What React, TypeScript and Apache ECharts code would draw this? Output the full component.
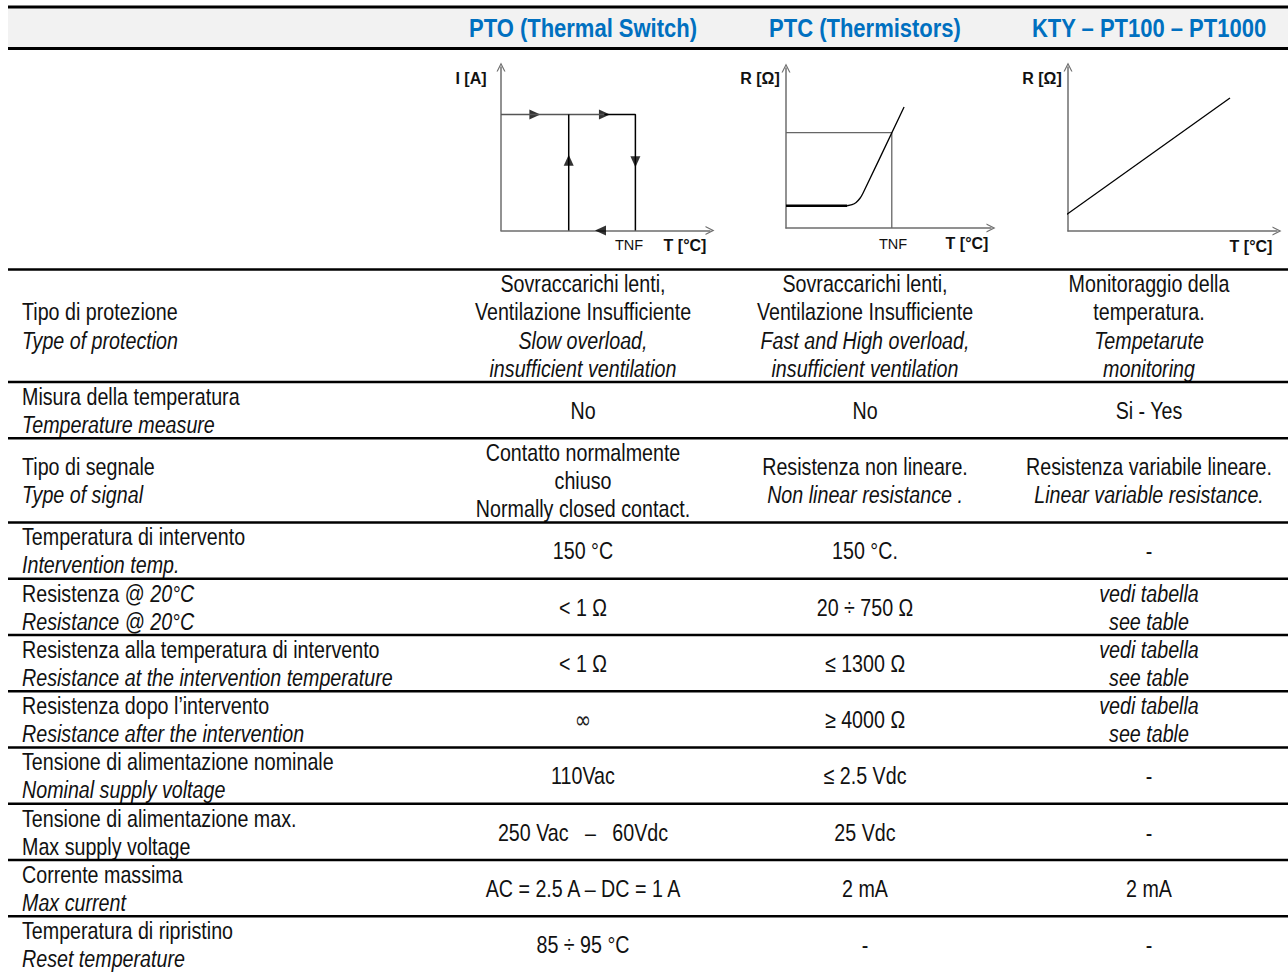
import React, { useEffect, useRef } from "react";
import * as echarts from "echarts";

// ---------- Table content ----------
const columnHeaders = ["PTO (Thermal Switch)", "PTC (Thermistors)", "KTY – PT100 – PT1000"];

const rowLabels: string[][] = [
  ["Tipo di protezione", "{i|Type of protection}"],
  ["Misura della temperatura", "{i|Temperature measure}"],
  ["Tipo di segnale", "{i|Type of signal}"],
  ["Temperatura di intervento", "{i|Intervention temp.}"],
  ["Resistenza @ {i|20°C}", "{i|Resistance @ 20°C}"],
  ["Resistenza alla temperatura di intervento", "{i|Resistance at the intervention temperature}"],
  ["Resistenza dopo l’intervento", "{i|Resistance after the intervention}"],
  ["Tensione di alimentazione nominale", "{i|Nominal supply voltage}"],
  ["Tensione di alimentazione max.", "Max supply voltage"],
  ["Corrente massima", "{i|Max current}"],
  ["Temperatura di ripristino", "{i|Reset temperature}"],
];

const ptoValues: string[][] = [
  ["Sovraccarichi lenti,", "Ventilazione Insufficiente", "{i|Slow overload,}", "{i|insufficient ventilation}"],
  ["No"],
  ["Contatto normalmente", "chiuso", "Normally closed contact."],
  ["150 °C"],
  ["< 1 Ω"],
  ["< 1 Ω"],
  ["{s|∞}"],
  ["110Vac"],
  ["250 Vac   –   60Vdc"],
  ["AC = 2.5 A – DC = 1 A"],
  ["85 ÷ 95 °C"],
];

const ptcValues: string[][] = [
  ["Sovraccarichi lenti,", "Ventilazione Insufficiente", "{i|Fast and High overload,}", "{i|insufficient ventilation}"],
  ["No"],
  ["Resistenza non lineare.", "{i|Non linear resistance .}"],
  ["150 °C."],
  ["20 ÷ 750 Ω"],
  ["≤ 1300 Ω"],
  ["≥ 4000 Ω"],
  ["≤ 2.5 Vdc"],
  ["25 Vdc"],
  ["2 mA"],
  ["-"],
];

const ktyValues: string[][] = [
  ["Monitoraggio della", "temperatura.", "{i|Tempetarute}", "{i|monitoring}"],
  ["Si - Yes"],
  ["Resistenza variabile lineare.", "{i|Linear variable resistance.}"],
  ["-"],
  ["{i|vedi tabella}", "{i|see table}"],
  ["{i|vedi tabella}", "{i|see table}"],
  ["{i|vedi tabella}", "{i|see table}"],
  ["-"],
  ["-"],
  ["2 mA"],
  ["-"],
];

// ---------- Schematic curves (arbitrary units, 0..100) ----------
const ptoHighLeft: number[][] = [[0, 71], [49.5, 71]];
const ptoHighRight: number[][] = [[49.5, 71], [64.3, 71], [64.3, 0]];
const ptoReset: number[][] = [[32.4, 0], [32.4, 71]];
const ptoArrows: { value: number[]; rot: number }[] = [
  { value: [16.2, 71], rot: -90 },
  { value: [49.5, 71], rot: -90 },
  { value: [32.4, 43], rot: 0 },
  { value: [64.3, 42], rot: 180 },
  { value: [47.6, 0], rot: 90 },
];

const ptcFlat: number[][] = [[0, 13.9], [29.8, 13.9]];
const ptcCurve: number[][] = [[29.8, 13.9], [32.2, 14.6], [34.2, 16.0], [36.1, 18.6], [37.6, 21.9], [57.6, 75.6]];
const ptcTnfBox: number[][] = [[0, 59.6], [51.6, 59.6], [51.6, 0]];

const ktyLine: number[][] = [[-2.4, 8.5], [77.5, 81.1]];

const FONT = "'Liberation Sans', Arial, sans-serif";
const TEXT_SIZE = 24;
const NARROW = 0.82;
const LINE_H = 28.12;

const chevron = "path://M0,10 L5,0 L10,10 L8.6,10 L5,2.9 L1.4,10 Z";

function axisPair(gridIndex: number) {
  const axisLine = {
    show: true,
    symbol: ["none", chevron],
    symbolSize: [11, 9],
    symbolOffset: [0, 0],
    lineStyle: { color: "#6e6e6e", width: 1.5 },
  };
  const common = {
    type: "value" as const,
    gridIndex,
    min: 0,
    max: 100,
    axisLine,
    axisTick: { show: false },
    axisLabel: { show: false },
    splitLine: { show: false },
  };
  return { x: { ...common }, y: { ...common } };
}

export default function App() {
  const ref = useRef<HTMLDivElement>(null);

  useEffect(() => {
    if (!ref.current) return;
    const chart = echarts.init(ref.current, undefined, { renderer: "svg" });

    const graphics: any[] = [];
    graphics.push({ type: "rect", shape: { x: 8, y: 8, width: 1280, height: 40 }, style: { fill: "#f2f2f2" }, silent: true });
    const hline = (y: number, w: number) =>
      graphics.push({ type: "line", shape: { x1: 8, y1: y, x2: 1288, y2: y }, style: { stroke: "#000", lineWidth: w }, silent: true });
    hline(7, 3);
    hline(48.5, 3);
    hline(269.5, 2.5);

    const colX = [583, 865, 1149];
    columnHeaders.forEach((h, i) => {
      graphics.push({
        type: "text",
        x: colX[i],
        y: 29,
        scaleX: 0.88,
        style: {
          text: h,
          fontFamily: FONT,
          fontSize: 25,
          fontWeight: "bold",
          fill: "#0070c0",
          align: "center",
          verticalAlign: "middle",
          textAlign: "center",
          textVerticalAlign: "middle",
        },
      });
    });

    const rich = {
      i: { fontStyle: "italic", fontSize: TEXT_SIZE, fontFamily: FONT, fill: "#111" },
      s: { fontSize: 24, fontFamily: "'DejaVu Sans', sans-serif", fill: "#222" },
    };
    const textEl = (x: number, y: number, text: string, align: string) => ({
      type: "text",
      x,
      y,
      scaleX: NARROW,
      style: {
        text,
        fontFamily: FONT,
        fontSize: TEXT_SIZE,
        fill: "#111",
        align,
        verticalAlign: "middle",
        textAlign: align,
        textVerticalAlign: "middle",
        rich,
      },
    });

    let y = 269.5;
    rowLabels.forEach((label, r) => {
      const cells = [ptoValues[r], ptcValues[r], ktyValues[r]];
      const n = Math.max(2, label.length, ...cells.map((c) => c.length));
      const h = n * LINE_H;
      const cy = y + h / 2 + 0.5;
      label.forEach((t, k) => {
        graphics.push(textEl(22, cy + (k - (label.length - 1) / 2) * LINE_H, t, "left"));
      });
      cells.forEach((c, ci) => {
        c.forEach((t, k) => {
          graphics.push(textEl(colX[ci], cy + (k - (c.length - 1) / 2) * LINE_H, t, "center"));
        });
      });
      y += h;
      if (r < rowLabels.length - 1) hline(y, 2.5);
    });

    const lbl = (x: number, yy: number, text: string, bold: boolean) => ({
      type: "text",
      x,
      y: yy,
      style: {
        text,
        fontFamily: FONT,
        fontSize: bold ? 16 : 14.5,
        fontWeight: bold ? "bold" : "normal",
        fill: "#111",
        align: "center",
        verticalAlign: "middle",
        textAlign: "center",
        textVerticalAlign: "middle",
      },
    });
    graphics.push(lbl(471, 78, "I [A]", true));
    graphics.push(lbl(629, 245, "TNF", false));
    graphics.push(lbl(685, 245, "T [°C]", true));
    graphics.push(lbl(760, 78, "R [Ω]", true));
    graphics.push(lbl(893, 244, "TNF", false));
    graphics.push(lbl(967, 243, "T [°C]", true));
    graphics.push(lbl(1042, 78, "R [Ω]", true));
    graphics.push(lbl(1251, 246, "T [°C]", true));

    const a0 = axisPair(0);
    const a1 = axisPair(1);
    const a2 = axisPair(2);

    const lineSeries = (data: number[][], xi: number, color: string, width: number, extra: any = {}) => ({
      type: "line",
      xAxisIndex: xi,
      yAxisIndex: xi,
      data,
      symbol: "none",
      silent: true,
      clip: false,
      lineStyle: { color, width },
      ...extra,
    });

    chart.setOption({
      animation: false,
      backgroundColor: "#ffffff",
      grid: [
        { left: 501, top: 67, width: 209, height: 163.5 },
        { left: 786, top: 68, width: 205, height: 160 },
        { left: 1068, top: 67, width: 209, height: 164 },
      ],
      xAxis: [a0.x, a1.x, a2.x],
      yAxis: [a0.y, a1.y, a2.y],
      series: [
        lineSeries(ptoHighLeft, 0, "#555", 1.5),
        lineSeries(ptoHighRight, 0, "#000", 1.5),
        lineSeries(ptoReset, 0, "#000", 1.5),
        {
          type: "scatter",
          xAxisIndex: 0,
          yAxisIndex: 0,
          silent: true,
          symbol: "triangle",
          symbolSize: [10, 11],
          itemStyle: { color: "#000" },
          data: ptoArrows.map((a) => ({ value: a.value, symbolRotate: a.rot })),
        },
        lineSeries(ptcTnfBox, 1, "#666", 1.3),
        lineSeries(ptcFlat, 1, "#000", 2.5),
        lineSeries(ptcCurve, 1, "#000", 1.3, { smooth: 0.35 }),
        lineSeries(ktyLine, 2, "#000", 1.3),
      ],
      graphic: graphics,
    });

    return () => chart.dispose();
  }, []);

  return <div ref={ref} style={{ position: "fixed", left: 0, top: 0, width: 1288, height: 972, background: "#fff" }} />;
}
